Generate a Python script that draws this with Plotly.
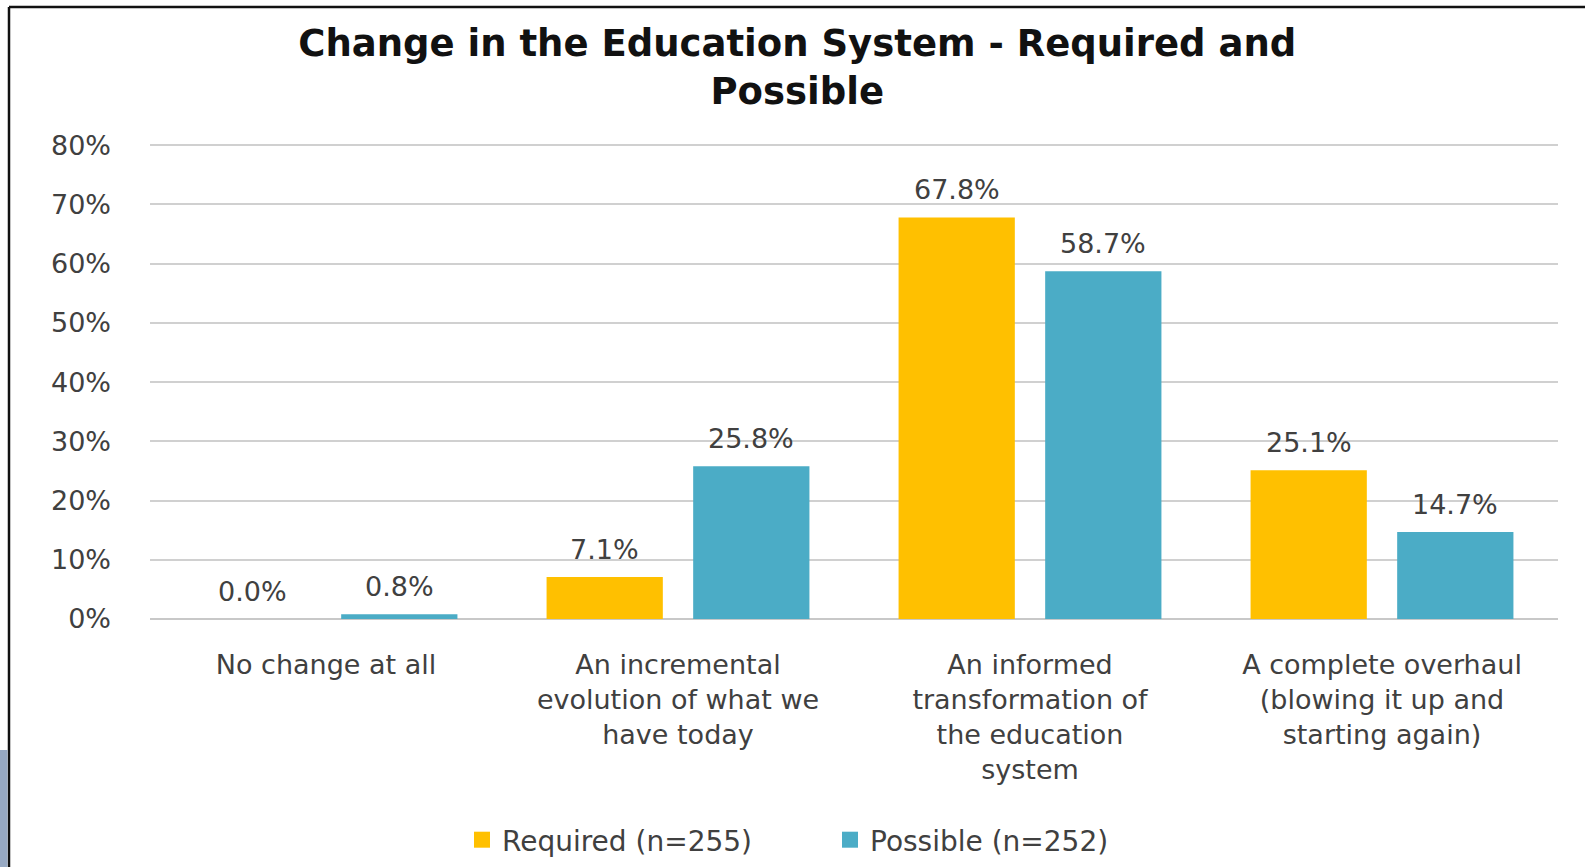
import plotly.graph_objects as go

categories = [
    "No change at all",
    "An incremental<br>evolution of what we<br>have today",
    "An informed<br>transformation of<br>the education<br>system",
    "A complete overhaul<br>(blowing it up and<br>starting again)",
]
required = [0.0, 7.1, 67.8, 25.1]
possible = [0.8, 25.8, 58.7, 14.7]
series_names = ["Required (n=255)", "Possible (n=252)"]
series_colors = ["#FFC000", "#4BACC6"]
tick_vals = [0, 10, 20, 30, 40, 50, 60, 70, 80]
tick_text = ["0%", "10%", "20%", "30%", "40%", "50%", "60%", "70%", "80%"]

W, H = 1585, 867
L, R, T, B = 150, 27, 144, 248
FONT = "DejaVu Sans"
TXT = "#404040"
BARGAP = 0.167
GROUPGAP = 0.207

fig = go.Figure()
for vals, name, col in zip((required, possible), series_names, series_colors):
    fig.add_trace(go.Bar(x=categories, y=vals, name=name, showlegend=False,
                         marker=dict(color=col, line=dict(width=0))))
# legend entries with larger square swatches
for name, col in zip(series_names, series_colors):
    fig.add_trace(go.Scatter(x=[None], y=[None], mode="markers", name=name,
                             marker=dict(symbol="square", size=20, color=col),
                             showlegend=True, hoverinfo="skip"))

# data labels above each bar (offset derived from bargap geometry)
slot = (1 - BARGAP) / 2
for series, sign in ((required, -1), (possible, 1)):
    for i, v in enumerate(series):
        fig.add_annotation(x=i + sign * slot / 2, y=v, xref="x", yref="y",
                           text=f"{v:.1f}%", showarrow=False,
                           yanchor="bottom", yshift=10,
                           font=dict(family=FONT, size=27, color=TXT))

# page border (top and left) and decorative blob at lower-left
pw = W - L - R
ph = H - T - B
def px_x(p):
    return (p - L) / pw
def px_y(p):
    return (H - B - p) / ph
fig.add_shape(type="line", xref="paper", yref="paper",
              x0=px_x(9), x1=px_x(W + 5), y0=px_y(7), y1=px_y(7),
              line=dict(color="#111111", width=2.5))
fig.add_shape(type="line", xref="paper", yref="paper",
              x0=px_x(9), x1=px_x(9), y0=px_y(7), y1=px_y(H + 5),
              line=dict(color="#111111", width=2.5))
fig.add_shape(type="rect", xref="paper", yref="paper",
              x0=px_x(-5), x1=px_x(7.5), y0=px_y(750), y1=px_y(H + 5),
              fillcolor="#7d93b4", line=dict(width=0), opacity=0.8)

fig.update_layout(
    width=W, height=H,
    margin=dict(l=L, r=R, t=T, b=B, pad=0, autoexpand=False),
    paper_bgcolor="white", plot_bgcolor="white",
    barmode="group", bargap=BARGAP, bargroupgap=GROUPGAP,
    title=dict(text="<b>Change in the Education System - Required and<br>Possible</b>",
               x=0.503, xanchor="center", xref="container",
               y=0.935, yanchor="top", yref="container",
               font=dict(family=FONT, size=37, color="#111111")),
    legend=dict(orientation="h", x=px_x(462), xanchor="left",
                y=px_y(840), yanchor="middle",
                font=dict(family=FONT, size=28, color=TXT),
                itemwidth=30, entrywidth=323, entrywidthmode="pixels",
                traceorder="normal", tracegroupgap=0),
    showlegend=True,
)
fig.update_xaxes(
    tickfont=dict(family=FONT, size=27, color=TXT),
    showgrid=False, showline=False, ticks="", ticklabelstandoff=27,
    zeroline=False, automargin=False,
)
fig.update_yaxes(
    range=[0, 80.2], tickvals=tick_vals, ticktext=tick_text,
    tickfont=dict(family=FONT, size=27, color=TXT),
    showgrid=True, gridcolor="#d0d0d0", gridwidth=2,
    zeroline=True, zerolinecolor="#c8c8c8", zerolinewidth=2,
    showline=False, ticks="", ticklabelstandoff=38, automargin=False,
)

fig.write_html("out.html", config={"displayModeBar": False},
               post_script="document.body.style.margin='0';")
